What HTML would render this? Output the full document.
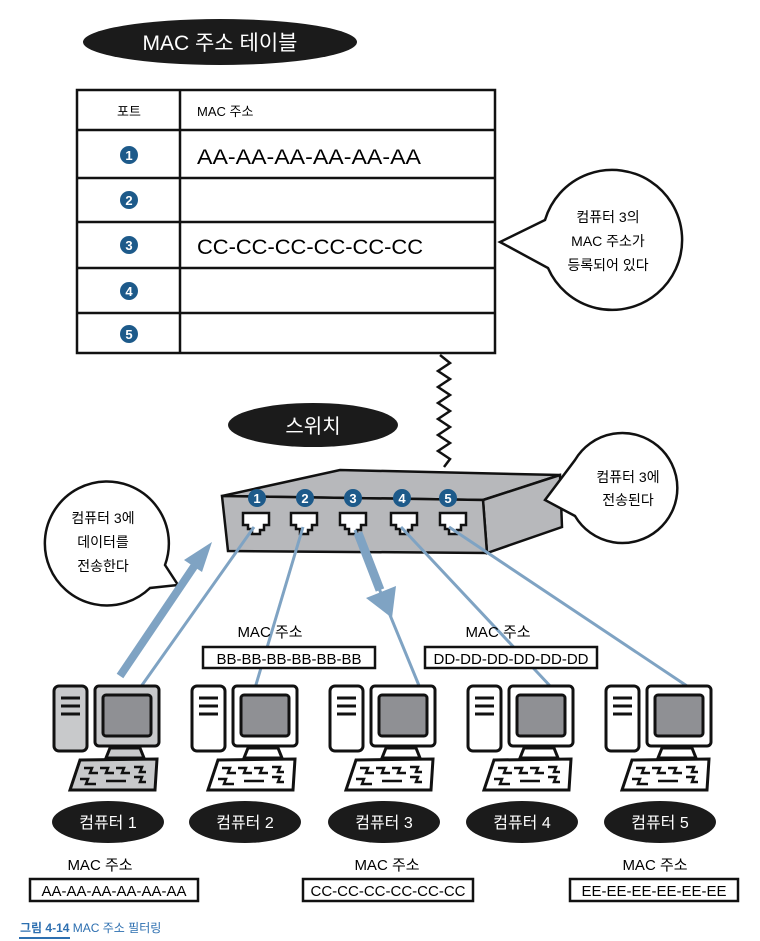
<!DOCTYPE html>
<html><head><meta charset="utf-8"><style>
body{margin:0;background:#fff}
svg{display:block}
text{font-family:"Liberation Sans","Noto Sans CJK KR",sans-serif}
</style></head><body>
<svg width="760" height="941" viewBox="0 0 760 941" xmlns="http://www.w3.org/2000/svg">
<!-- title blob -->
<ellipse cx="220" cy="42" rx="137" ry="23" fill="#1b1b1b"/>
<text x="220" y="50" fill="#fff" font-size="21" text-anchor="middle">MAC 주소 테이블</text>
<!-- table -->
<rect x="77" y="90" width="418" height="263" fill="#fff" stroke="#111" stroke-width="2.5"/>
<path d="M77 130H495M77 178H495M77 222H495M77 268H495M77 313H495M180 90V353" stroke="#111" stroke-width="2.5"/>
<text x="129" y="116" font-size="13" text-anchor="middle">포트</text>
<text x="197" y="116" font-size="13">MAC 주소</text>
<g fill="#1d5a8a"><circle cx="129" cy="155" r="9"/><circle cx="129" cy="200" r="9"/><circle cx="129" cy="245" r="9"/><circle cx="129" cy="291" r="9"/><circle cx="129" cy="334" r="9"/></g>
<g fill="#fff" font-size="13" font-weight="bold" text-anchor="middle"><text x="129" y="160">1</text><text x="129" y="205">2</text><text x="129" y="250">3</text><text x="129" y="296">4</text><text x="129" y="339">5</text></g>
<text x="197" y="164" font-size="21" textLength="224" lengthAdjust="spacingAndGlyphs">AA-AA-AA-AA-AA-AA</text>
<text x="197" y="254" font-size="21" textLength="226" lengthAdjust="spacingAndGlyphs">CC-CC-CC-CC-CC-CC</text>
<!-- right bubble -->
<path d="M545 220 A70 70 0 1 1 548 268 L500 242 Z" fill="#fff" stroke="#111" stroke-width="2.5"/>
<g font-size="14" text-anchor="middle"><text x="608" y="222">컴퓨터 3의</text><text x="608" y="246">MAC 주소가</text><text x="608" y="270">등록되어 있다</text></g>
<!-- zigzag -->
<path d="M440 355 l10 8 l-12 8 l12 8 l-12 8 l12 8 l-12 8 l12 8 l-12 8 l12 8 l-12 8 l12 8 l-12 8 l12 8 l-6 8" fill="none" stroke="#111" stroke-width="2.5"/>
<!-- switch label -->
<ellipse cx="313" cy="425" rx="85" ry="22" fill="#1b1b1b"/>
<text x="313" y="433" fill="#fff" font-size="20" text-anchor="middle">스위치</text>
<!-- switch -->
<path d="M222 496 L340 470 L560 475 L483 500 Z" fill="#b7b8bb" stroke="#111" stroke-width="2.5"/>
<path d="M483 500 L560 475 L562 527 L487 553 Z" fill="#b7b8bb" stroke="#111" stroke-width="2.5"/>
<path d="M222 496 L483 500 L487 553 L228 551 Z" fill="#b7b8bb" stroke="#111" stroke-width="2.5"/>
<g fill="#fff" stroke="#111" stroke-width="2.5">
<path d="M243 513h26v12h-5v5h-4v4h-8v-5h-4v-4h-5z"/>
<path d="M291 513h26v12h-5v5h-4v4h-8v-5h-4v-4h-5z"/>
<path d="M340 513h26v12h-5v5h-4v4h-8v-5h-4v-4h-5z"/>
<path d="M391 513h26v12h-5v5h-4v4h-8v-5h-4v-4h-5z"/>
<path d="M440 513h26v12h-5v5h-4v4h-8v-5h-4v-4h-5z"/>
</g>
<g fill="#1d5a8a"><circle cx="257" cy="498" r="9"/><circle cx="305" cy="498" r="9"/><circle cx="353" cy="498" r="9"/><circle cx="402" cy="498" r="9"/><circle cx="448" cy="498" r="9"/></g>
<g fill="#fff" font-size="13" font-weight="bold" text-anchor="middle"><text x="257" y="503">1</text><text x="305" y="503">2</text><text x="353" y="503">3</text><text x="402" y="503">4</text><text x="448" y="503">5</text></g>
<!-- right switch bubble -->
<path d="M575 460 A55 55 0 1 1 575 516 L545 500 Z" fill="#fff" stroke="#111" stroke-width="2.5"/>
<g font-size="14" text-anchor="middle"><text x="628" y="482">컴퓨터 3에</text><text x="628" y="505">전송된다</text></g>
<!-- left bubble -->
<path d="M150 588 A62 62 0 1 1 165 565 L178 585 Z" fill="#fff" stroke="#111" stroke-width="2.5"/>
<g font-size="14" text-anchor="middle"><text x="103" y="523">컴퓨터 3에</text><text x="103" y="547">데이터를</text><text x="103" y="571">전송한다</text></g>
<!-- connectors -->
<g stroke="#7fa3c3" stroke-width="3" fill="none">
<path d="M254 527 L140 688"/>
<path d="M303 527 L255 688"/>
<path d="M355 530 L420 688"/>
<path d="M401 527 L552 688"/>
<path d="M449 527 L690 688"/>
</g>
<!-- thick arrows -->
<path d="M120 676 L195 565" stroke="#7fa3c3" stroke-width="8"/>
<path d="M212 542 L184 560 L202 572 Z" fill="#7fa3c3"/>
<path d="M358 533 L380 590" stroke="#7fa3c3" stroke-width="9"/>
<path d="M366 598 L396 586 L392 618 Z" fill="#7fa3c3"/>
<!-- middle labels -->
<rect x="203" y="647" width="172" height="21" fill="#fff" stroke="#111" stroke-width="2.5"/>
<rect x="425" y="647" width="172" height="21" fill="#fff" stroke="#111" stroke-width="2.5"/>
<g font-size="15" text-anchor="middle"><text x="270" y="637">MAC 주소</text><text x="498" y="637">MAC 주소</text>
<text x="289" y="664">BB-BB-BB-BB-BB-BB</text><text x="511" y="664">DD-DD-DD-DD-DD-DD</text></g>
<!-- computers -->
<g transform="translate(54,686)"><rect x="0" y="0" width="33" height="65" rx="5" fill="#c8c9cb" stroke="#111" stroke-width="3"/><path d="M7 12h19M7 20h19M7 28h19" stroke="#111" stroke-width="3"/>
 <path d="M56 62 L86 62 L90 72 L52 72 Z" fill="#c8c9cb" stroke="#111" stroke-width="3"/>
 <rect x="41" y="0" width="64" height="60" rx="4" fill="#c8c9cb" stroke="#111" stroke-width="3"/>
 <rect x="49" y="9" width="48" height="41" rx="3" fill="#8f9094" stroke="#111" stroke-width="3"/>
 <path d="M26 74 L103 73 L101 104 L16 104 Z" fill="#c8c9cb" stroke="#111" stroke-width="3"/>
 <path d="M30 82h8l-2 5h8M46 82h8l-2 5h8M62 82h8l-2 5h8M80 81h8l-2 5h6M26 93h8l-2 5h10M52 95h20M80 91h8l-2 5h6" stroke="#111" stroke-width="2.5" fill="none"/></g>
<g id="wpc" transform="translate(192,686)"><rect x="0" y="0" width="33" height="65" rx="5" fill="#fff" stroke="#111" stroke-width="3"/><path d="M7 12h19M7 20h19M7 28h19" stroke="#111" stroke-width="3"/>
 <path d="M56 62 L86 62 L90 72 L52 72 Z" fill="#fff" stroke="#111" stroke-width="3"/>
 <rect x="41" y="0" width="64" height="60" rx="4" fill="#fff" stroke="#111" stroke-width="3"/>
 <rect x="49" y="9" width="48" height="41" rx="3" fill="#8f9094" stroke="#111" stroke-width="3"/>
 <path d="M26 74 L103 73 L101 104 L16 104 Z" fill="#fff" stroke="#111" stroke-width="3"/>
 <path d="M30 82h8l-2 5h8M46 82h8l-2 5h8M62 82h8l-2 5h8M80 81h8l-2 5h6M26 93h8l-2 5h10M52 95h20M80 91h8l-2 5h6" stroke="#111" stroke-width="2.5" fill="none"/></g>
<use href="#wpc" transform="translate(138,0)"/>
<use href="#wpc" transform="translate(276,0)"/>
<use href="#wpc" transform="translate(414,0)"/>
<!-- computer labels -->
<g fill="#1b1b1b"><ellipse cx="108" cy="822" rx="56" ry="21"/><ellipse cx="245" cy="822" rx="56" ry="21"/><ellipse cx="384" cy="822" rx="56" ry="21"/><ellipse cx="522" cy="822" rx="56" ry="21"/><ellipse cx="660" cy="822" rx="56" ry="21"/></g>
<g fill="#fff" font-size="16" text-anchor="middle"><text x="108" y="828">컴퓨터 1</text><text x="245" y="828">컴퓨터 2</text><text x="384" y="828">컴퓨터 3</text><text x="522" y="828">컴퓨터 4</text><text x="660" y="828">컴퓨터 5</text></g>
<!-- bottom labels -->
<g fill="#fff" stroke="#111" stroke-width="2.5"><rect x="30" y="879" width="168" height="22"/><rect x="303" y="879" width="170" height="22"/><rect x="570" y="879" width="168" height="22"/></g>
<g font-size="15" text-anchor="middle"><text x="100" y="870">MAC 주소</text><text x="387" y="870">MAC 주소</text><text x="655" y="870">MAC 주소</text>
<text x="114" y="896">AA-AA-AA-AA-AA-AA</text><text x="388" y="896">CC-CC-CC-CC-CC-CC</text><text x="654" y="896">EE-EE-EE-EE-EE-EE</text></g>
<!-- caption -->
<text x="20" y="932" font-size="12" fill="#2d6fb0"><tspan font-weight="bold">그림 4-14</tspan> MAC 주소 필터링</text>
<rect x="19" y="937" width="51" height="2" fill="#2d6fb0"/>
</svg>
</body></html>
